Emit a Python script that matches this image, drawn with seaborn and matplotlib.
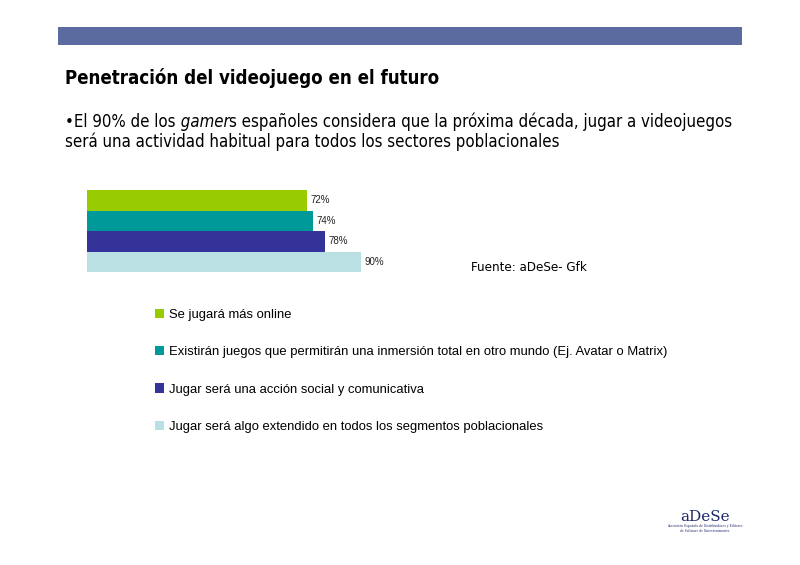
import matplotlib
matplotlib.use("Agg")
import matplotlib.pyplot as plt
import matplotlib.patches as mpatches
import seaborn as sns
import pandas as pd

# datos del gráfico
categorias = [
    "Se jugará más online",
    "Existirán juegos que permitirán una inmersión total en otro mundo (Ej. Avatar o Matrix)",
    "Jugar será una acción social y comunicativa",
    "Jugar será algo extendido en todos los segmentos poblacionales",
]
porcentajes = [72, 74, 78, 90]
etiquetas = ["72%", "74%", "78%", "90%"]
colores = ["#99CC00", "#009999", "#333399", "#BBE0E3"]

titulo = "Penetración del videojuego en el futuro"
sub_1a = "•El 90% de los"
sub_1b = " gamer"
sub_1c = "s españoles considera que la próxima década, jugar a videojuegos"
sub_2 = "será una actividad habitual para todos los sectores poblacionales"
fuente = "Fuente: aDeSe- Gfk"

sns.set_style("white")
plt.rcParams["font.family"] = ["DejaVu Sans"]
plt.rcParams["text.color"] = "black"

W, H = 800, 565
def fx(px):
    return px / W
def fy(py):
    return 1 - py / H

fig = plt.figure(figsize=(8, 5.65), dpi=100)
fig.patch.set_facecolor("white")

# eje de fondo para textos
bg = fig.add_axes([0, 0, 1, 1])
bg.axis("off")
bg.set_xlim(0, 1)
bg.set_ylim(0, 1)

# franja superior
bg.add_patch(mpatches.Rectangle((fx(58), fy(45)), fx(742) - fx(58), fy(27) - fy(45),
                                color="#5B6B9F", lw=0))

tf = dict(family=["DejaVu Sans"], fontstretch="condensed")
bg.text(fx(65), fy(84), titulo, fontsize=13.4, fontweight="bold", va="baseline", **tf)

t1 = bg.text(fx(65), fy(127), sub_1a, fontsize=12.07, va="baseline", **tf)
t2 = bg.annotate(sub_1b, xy=(1, 0), xycoords=t1, va="bottom", ha="left",
                 fontsize=12.07, style="italic", **tf)
bg.annotate(sub_1c, xy=(1, 0), xycoords=t2, va="bottom", ha="left", fontsize=12.07, **tf)
bg.text(fx(65), fy(147), sub_2, fontsize=12.07, va="baseline", **tf)

bg.text(fx(471), fy(271), fuente, fontsize=9.5, va="baseline", **tf)

# logo
bg.text(fx(705), fy(521), "aDeSe", fontsize=11, ha="center", va="baseline",
        family=["DejaVu Serif"], color="#1F2A6B")
bg.text(fx(705), fy(532), "Asociación Española de Distribuidores y Editores\nde Software de Entretenimiento",
        fontsize=2.2, ha="center", va="baseline", family=["DejaVu Serif"], color="#1F2A6B",
        linespacing=1.2)

# barras
ax = fig.add_axes([fx(87.3), fy(272), 304.5 / W, (272 - 190) / H])
df = pd.DataFrame({"cat": categorias, "pct": porcentajes})
sns.barplot(data=df, x="pct", y="cat", hue="cat", palette=colores, orient="h",
            width=1.0, dodge=False, legend=False, saturation=1, linewidth=0, ax=ax)
ax.set_xlim(0, 100)
ax.set_ylim(3.5, -0.5)
ax.axis("off")
for cont, lab in zip(ax.containers, etiquetas):
    ax.bar_label(cont, labels=[lab], padding=2.5, fontsize=7, family=["Liberation Sans"],
                 color="#222222")

# leyenda
handles = [mpatches.Patch(color=c, lw=0) for c in colores]
fig.legend(handles, categorias, loc="upper left", bbox_to_anchor=(fx(155), fy(308.5)),
           frameon=False, prop={"family": ["Liberation Sans"], "size": 9.4},
           handlelength=0.72, handleheight=0.72, handletextpad=0.35,
           labelspacing=1.93, borderpad=0, borderaxespad=0)

fig.savefig("out.png", dpi=100)
